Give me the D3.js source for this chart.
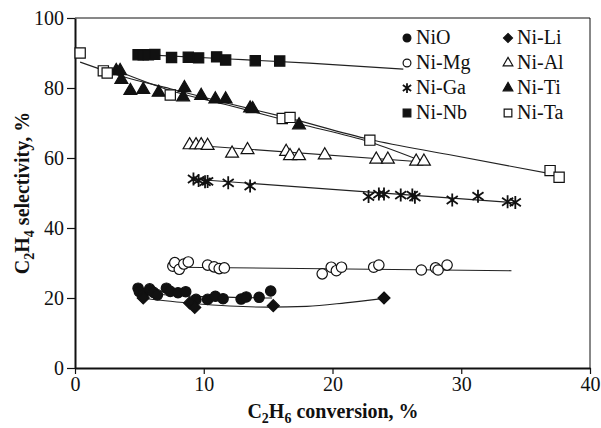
<!DOCTYPE html>
<html lang="en">
  <head>
    <meta charset="UTF-8" />
    <title>C2H4 selectivity</title>
    <style>
      body { margin: 0; background: #fff; }
      svg { display: block; }
      text { font-family: "Liberation Serif", "Times New Roman", serif; fill: #111; }
    </style>
  </head>
  <body>
    <svg width="601" height="428"></svg>
    <script src="https://cdnjs.cloudflare.com/ajax/libs/d3/7.8.5/d3.min.js"></script>
    <script>
      // points: [conversion %, selectivity %]
      var niO = [[4.9, 22.8], [5.0, 21.8], [5.3, 21.0], [5.8, 22.6], [6.1, 21.6], [6.4, 20.9],
        [7.1, 22.8], [7.4, 21.9], [8.0, 21.5], [8.6, 21.8], [9.4, 19.6], [10.3, 19.6],
        [10.9, 20.5], [11.5, 19.8], [12.9, 19.7], [13.3, 20.3], [14.3, 20.2], [15.2, 22.0]];
      var niLi = [[5.3, 20.0], [8.9, 18.6], [9.3, 17.3], [15.4, 17.8], [24.0, 20.0]];
      var niMg = [[7.6, 29.1], [7.75, 30.1], [8.1, 28.2], [8.45, 29.7], [8.8, 30.3], [10.3, 29.4],
        [10.8, 28.9], [11.2, 28.4], [11.6, 28.6], [19.2, 26.9], [19.9, 28.8], [20.3, 27.8],
        [20.7, 28.8], [23.2, 28.8], [23.6, 29.4], [26.9, 28.0], [28.0, 28.6], [28.2, 28.0], [28.9, 29.4]];
      var niAl = [[8.9, 63.7], [9.4, 63.7], [9.8, 63.7], [10.3, 63.5], [12.2, 61.3], [13.4, 62.3],
        [16.4, 61.8], [16.7, 60.6], [17.4, 60.6], [19.4, 60.8], [23.4, 59.6], [24.3, 59.6],
        [26.5, 59.0], [27.1, 59.0]];
      var niGa = [[9.2, 54.0], [9.6, 53.6], [10.1, 53.2], [10.3, 53.3], [11.9, 52.9], [13.6, 52.0],
        [22.8, 49.0], [23.6, 49.7], [24.0, 49.7], [25.3, 49.4], [26.2, 49.4], [26.4, 48.8],
        [29.3, 48.0], [31.3, 49.1], [33.6, 47.5], [34.2, 47.3]];
      var niTi = [[3.2, 84.9], [3.5, 84.9], [3.6, 82.4], [4.3, 79.2], [5.3, 79.5], [6.5, 78.7],
        [8.5, 80.0], [8.4, 77.4], [9.8, 77.8], [10.9, 76.8], [11.7, 76.8], [13.6, 74.2],
        [13.8, 74.0], [17.4, 69.4]];
      var niNb = [[4.9, 89.5], [5.3, 89.5], [5.7, 89.5], [6.2, 89.6], [7.5, 88.7], [8.8, 88.8],
        [9.6, 88.6], [11.0, 88.9], [11.7, 88.0], [14.0, 87.8], [15.9, 87.7]];
      var niTa = [[0.4, 90.0], [2.2, 84.9], [2.5, 84.3], [7.4, 78.0], [16.1, 71.3], [16.7, 71.6],
        [22.9, 65.1], [36.9, 56.4], [37.6, 54.5]];

      // trend lines as traced on the figure
      var niOFit = [[5.0, 21.3], [10.0, 20.4], [15.3, 20.0]];
      var niLiFit = [[5.2, 20.0], [7, 19.2], [9, 18.5], [12, 17.7], [15, 17.4], [18, 17.6], [21, 18.6], [24, 19.9]];
      var niMgFit = [[7.8, 28.8], [33.9, 27.8]];
      var niAlFit = [[8.7, 63.8], [27.3, 58.8]];
      var niGaFit = [[9.0, 54.0], [34.2, 47.2]];
      var niTiFit = [[3.2, 85.0], [7.4, 79.3], [12, 75.0], [17.4, 69.8], [22.9, 64.6], [27.1, 58.9]];
      var niNbFit = [[4.9, 89.6], [12, 88.3], [18.2, 87.1], [25.5, 85.4]];
      var niTaFit = [[0.4, 87.4], [3.7, 83.3], [7.4, 79.8], [12, 75.5], [16.4, 71.6], [22.9, 65.3], [29, 61.0], [37.4, 55.2]];

      var xTicks = [0, 10, 20, 30, 40];
      var yTicks = [0, 20, 40, 60, 80, 100];

      var series = [
        { name: "NiO", pts: niO, fit: niOFit, shape: "circle", filled: true },
        { name: "Ni-Li", pts: niLi, fit: niLiFit, shape: "diamond", filled: true },
        { name: "Ni-Mg", pts: niMg, fit: niMgFit, shape: "circle", filled: false },
        { name: "Ni-Al", pts: niAl, fit: niAlFit, shape: "triangle", filled: false },
        { name: "Ni-Ga", pts: niGa, fit: niGaFit, shape: "star", filled: false },
        { name: "Ni-Ti", pts: niTi, fit: niTiFit, shape: "triangle", filled: true },
        { name: "Ni-Nb", pts: niNb, fit: niNbFit, shape: "square", filled: true },
        { name: "Ni-Ta", pts: niTa, fit: niTaFit, shape: "square", filled: false }
      ];

      var svg = d3.select("svg");
      var padL = 75, padR = 590, padT = 18, padB = 368;

      var x = d3.scaleLinear().domain([0, 40]).range([padL, padR]);
      var y = d3.scaleLinear().domain([0, 100]).range([padB, padT]);

      var ink = "#111";

      // frame
      svg.append("line").attr("x1", padL).attr("x2", padR).attr("y1", padT).attr("y2", padT)
        .attr("stroke", ink).attr("stroke-width", 1);
      svg.append("line").attr("x1", padR).attr("x2", padR).attr("y1", padT).attr("y2", padB)
        .attr("stroke", ink).attr("stroke-width", 1);

      var xAxis = svg.append("g")
        .attr("transform", "translate(0," + padB + ")")
        .call(d3.axisBottom(x).tickValues(xTicks).tickSize(6).tickSizeOuter(0));
      var yAxis = svg.append("g")
        .attr("transform", "translate(" + padL + ",0)")
        .call(d3.axisLeft(y).tickValues(yTicks).tickSize(8).tickSizeOuter(0));

      [xAxis, yAxis].forEach(function (ax) {
        ax.select(".domain").attr("stroke", ink).attr("stroke-width", 2);
        ax.selectAll(".tick line").attr("stroke", ink).attr("stroke-width", 1.2);
        ax.selectAll(".tick text")
          .attr("font-family", "Liberation Serif, Times New Roman, serif")
          .attr("font-size", 20).attr("fill", ink);
      });
      xAxis.selectAll(".tick text").attr("dy", "0.72em").attr("y", 9);
      yAxis.selectAll(".tick text").attr("x", -11).attr("dy", "0.34em");

      // trend lines
      var line = d3.line()
        .x(function (d) { return x(d[0]); })
        .y(function (d) { return y(d[1]); })
        .curve(d3.curveMonotoneX);

      svg.append("g").selectAll("path")
        .data(series)
        .enter()
        .append("path")
        .attr("d", function (d) { return line(d.fit); })
        .attr("fill", "none")
        .attr("stroke", "#222")
        .attr("stroke-width", 1.1);

      function markerPath(shape, s) {
        if (shape === "star") {
          var r = 6.5 * s, a = r * 0.85, b = r * 0.6;
          return "M0," + (-r) + "L0," + r +
            "M" + (-a) + "," + (-b) + "L" + a + "," + b +
            "M" + (-a) + "," + b + "L" + a + "," + (-b);
        }
        if (shape === "diamond") {
          var h = 6 * s;
          return "M0," + (-h) + "L" + h + ",0L0," + h + "L" + (-h) + ",0Z";
        }
        var sym = { circle: d3.symbolCircle, square: d3.symbolSquare,
          triangle: d3.symbolTriangle }[shape];
        var size = { circle: 85, square: 105, triangle: 72 }[shape];
        return d3.symbol().type(sym).size(size * s * s)();
      }

      function drawMarker(g, d, s) {
        g.append("path")
          .attr("d", markerPath(d.shape, s))
          .attr("fill", d.shape === "star" ? "none" : (d.filled ? ink : "#fff"))
          .attr("stroke", ink)
          .attr("stroke-width", d.shape === "star" ? 1.8 : 1.2);
      }

      series.forEach(function (d) {
        var g = svg.append("g");
        d.pts.forEach(function (p) {
          var m = g.append("g")
            .attr("transform", "translate(" + x(p[0]) + "," + y(p[1]) + ")");
          drawMarker(m, d, 1);
        });
      });

      // legend, two columns
      var legend = svg.append("g");
      series.forEach(function (d, i) {
        var col = i % 2, row = Math.floor(i / 2);
        var lx = col === 0 ? 407 : 508;
        var ly = 38 + row * 25;
        var m = legend.append("g").attr("transform", "translate(" + lx + "," + ly + ")");
        drawMarker(m, d, 0.75);
        legend.append("text")
          .attr("x", lx + 9)
          .attr("y", ly + 6)
          .attr("font-size", 20)
          .text(d.name);
      });

      // axis titles
      var xt = svg.append("text")
        .attr("x", 333)
        .attr("y", 418)
        .attr("text-anchor", "middle")
        .attr("font-size", 20)
        .attr("font-weight", "bold");
      xt.append("tspan").text("C");
      xt.append("tspan").attr("font-size", 14).attr("dy", 5).text("2");
      xt.append("tspan").attr("dy", -5).text("H");
      xt.append("tspan").attr("font-size", 14).attr("dy", 5).text("6");
      xt.append("tspan").attr("dy", -5).text(" conversion, %");

      var yt = svg.append("text")
        .attr("transform", "translate(29,193) rotate(-90)")
        .attr("text-anchor", "middle")
        .attr("font-size", 20)
        .attr("font-weight", "bold");
      yt.append("tspan").text("C");
      yt.append("tspan").attr("font-size", 14).attr("dy", 5).text("2");
      yt.append("tspan").attr("dy", -5).text("H");
      yt.append("tspan").attr("font-size", 14).attr("dy", 5).text("4");
      yt.append("tspan").attr("dy", -5).text(" selectivity, %");
    </script>
  </body>
</html>
